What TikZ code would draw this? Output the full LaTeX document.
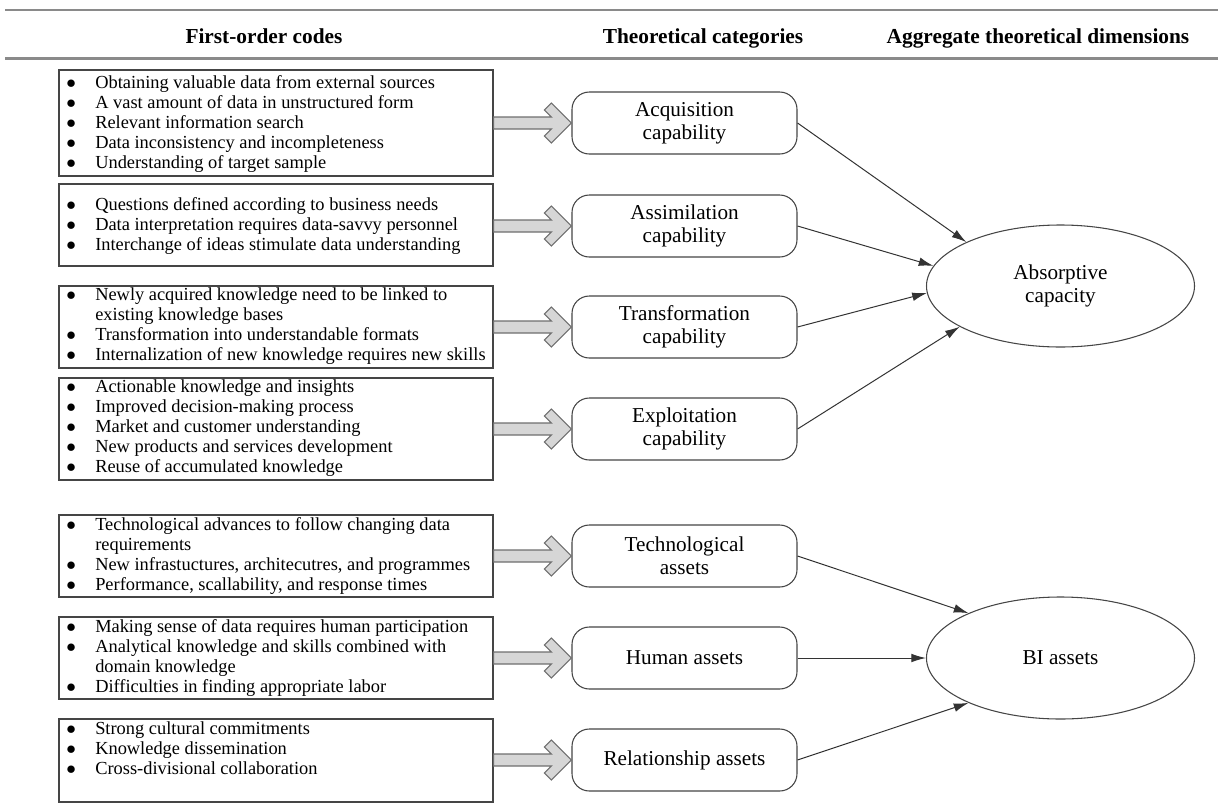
\documentclass[tikz,border=0pt]{standalone}
\usepackage{fontspec}
\setmainfont{Liberation Serif}
\usetikzlibrary{arrows.meta,calc,shapes.geometric}
\newcommand\bodyfont{\fontsize{13.8pt}{15.15pt}\selectfont}
\newcommand\catfont{\fontsize{15.9pt}{17.6pt}\selectfont}
\newcommand\headfont{\fontsize{16pt}{19pt}\selectfont\bfseries}
\newcommand\bul{$\bullet$}
\newenvironment{codelist}{\begin{tabular}[t]{@{}p{21.75pt}@{}l@{}}}{\end{tabular}}
\definecolor{rulegray}{HTML}{8A8A8A}
\definecolor{boxline}{HTML}{454545}
\definecolor{chevfill}{HTML}{D6D6D6}
\definecolor{chevline}{HTML}{6E6E6E}
\definecolor{linkline}{HTML}{333333}
\tikzset{
  lbox/.style={draw=boxline, line width=1pt, rectangle, minimum width=325.5pt, inner sep=0pt},
  codetext/.style={anchor=base west, inner sep=0pt, font=\bodyfont},
  catbox/.style={draw=boxline, line width=0.8pt, rectangle, rounded corners=13pt, minimum width=168.75pt, minimum height=46.5pt, align=center, font=\catfont, inner sep=0pt},
  dimell/.style={draw=boxline, line width=0.8pt, ellipse, minimum width=201pt, minimum height=91.5pt, align=center, font=\catfont, inner sep=0pt},
  head/.style={anchor=base, inner sep=0pt, font=\headfont},
  toprule/.style={draw=rulegray, line width=2pt},
  chev/.style={draw=chevline, fill=chevfill, line width=0.8pt, line join=miter},
  link/.style={draw=linkline, line width=0.75pt, -{Latex[length=11pt,width=6.5pt]}}
}
\newcommand\fatarrow[2]{%
  \path (#1.east |- #2.west) coordinate (s#2) (#2.west) coordinate (t#2);
  \draw[chev] ($(s#2)+(0,-6)$) -- ($(t#2)+(-20,-6)$) -- ($(t#2)+(-27,-13)$) -- ($(t#2)+(-20,-20)$)
    -- (t#2) -- ($(t#2)+(-20,20)$) -- ($(t#2)+(-27,13)$) -- ($(t#2)+(-20,6)$) -- ($(s#2)+(0,6)$) -- cycle;}
\begin{document}
\begin{tikzpicture}[x=0.75pt,y=-0.75pt]
\useasboundingbox (0,0) rectangle (1218,804);
% rules
\coordinate (r1a) at (5,10); \coordinate (r1b) at (1218,10);
\coordinate (r2a) at (5,58.5); \coordinate (r2b) at (1218,58.5);
\draw[toprule] (r1a) -- (r1b);
\draw[toprule] (r2a) -- (r2b);
% headers
\node[head] (h1) at (264,43) {First-order codes};
\node[head] (h2) at (703,43) {Theoretical categories};
\node[head] (h3) at (1038,43) {Aggregate theoretical dimensions};
% left boxes
\node[lbox, minimum height=79.5pt] (b1) at (276,123) {};
\node[lbox, minimum height=61.5pt] (b2) at (276,225) {};
\node[lbox, minimum height=61.5pt] (b3) at (276,327) {};
\node[lbox, minimum height=76.5pt] (b4) at (276,429) {};
\node[lbox, minimum height=61.5pt] (b5) at (276,556) {};
\node[lbox, minimum height=61.5pt] (b6) at (276,658) {};
\node[lbox, minimum height=62.25pt] (b7) at (276,760.5) {};
% code texts
\node[codetext] (t1) at (66,88) {\begin{codelist}
\bul & Obtaining valuable data from external sources\\
\bul & A vast amount of data in unstructured form\\
\bul & Relevant information search\\
\bul & Data inconsistency and incompleteness\\
\bul & Understanding of target sample
\end{codelist}};
\node[codetext] (t2) at (66,210) {\begin{codelist}
\bul & Questions defined according to business needs\\
\bul & Data interpretation requires data-savvy personnel\\
\bul & Interchange of ideas stimulate data understanding
\end{codelist}};
\node[codetext] (t3) at (66,300) {\begin{codelist}
\bul & Newly acquired knowledge need to be linked to\\
 & existing knowledge bases\\
\bul & Transformation into understandable formats\\
\bul & Internalization of new knowledge requires new skills
\end{codelist}};
\node[codetext] (t4) at (66,392) {\begin{codelist}
\bul & Actionable knowledge and insights\\
\bul & Improved decision-making process\\
\bul & Market and customer understanding\\
\bul & New products and services development\\
\bul & Reuse of accumulated knowledge
\end{codelist}};
\node[codetext] (t5) at (66,530) {\begin{codelist}
\bul & Technological advances to follow changing data\\
 & requirements\\
\bul & New infrastuctures, architecutres, and programmes\\
\bul & Performance, scallability, and response times
\end{codelist}};
\node[codetext] (t6) at (66,632) {\begin{codelist}
\bul & Making sense of data requires human participation\\
\bul & Analytical knowledge and skills combined with\\
 & domain knowledge\\
\bul & Difficulties in finding appropriate labor
\end{codelist}};
\node[codetext] (t7) at (66,734) {\begin{codelist}
\bul & Strong cultural commitments\\
\bul & Knowledge dissemination\\
\bul & Cross-divisional collaboration
\end{codelist}};
% categories
\node[catbox] (c1) at (684.5,123) {Acquisition\\capability};
\node[catbox] (c2) at (684.5,226) {Assimilation\\capability};
\node[catbox] (c3) at (684.5,327) {Transformation\\capability};
\node[catbox] (c4) at (684.5,429) {Exploitation\\capability};
\node[catbox] (c5) at (684.5,556) {Technological\\assets};
\node[catbox] (c6) at (684.5,658) {Human assets};
\node[catbox] (c7) at (684.5,760) {Relationship assets};
% dimensions
\node[dimell] (abs) at (1060.5,286) {Absorptive\\capacity};
\node[dimell] (bia) at (1060.5,658) {BI assets};
% fat arrows
\fatarrow{b1}{c1}
\fatarrow{b2}{c2}
\fatarrow{b3}{c3}
\fatarrow{b4}{c4}
\fatarrow{b5}{c5}
\fatarrow{b6}{c6}
\fatarrow{b7}{c7}
% links
\draw[link] (c1.east) -- (abs.155);
\draw[link] (c2.east) -- (abs.171);
\draw[link] (c3.east) -- (abs.183);
\draw[link] (c4.east) -- (abs.202);
\draw[link] (c5.east) -- (bia.154);
\draw[link] (c6.east) -- (bia.180);
\draw[link] (c7.east) -- (bia.206);
\end{tikzpicture}
\end{document}
